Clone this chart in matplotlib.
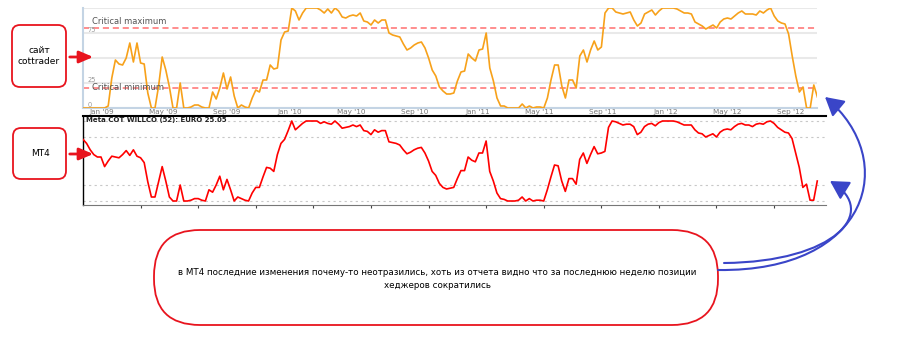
import matplotlib
matplotlib.use("Agg")
import matplotlib.pyplot as plt
import matplotlib.dates as mdates
import pandas as pd
from matplotlib.patches import FancyBboxPatch, FancyArrowPatch
from matplotlib.path import Path

# weekly COT report dates (Tuesdays)
weeks = pd.date_range("2008-11-25", periods=205, freq="7D")

# COT WILLCO index for EURO, as shown on cottrader.com
cottrader = [
    0, 0, 0, 0, 0, 0, 0,
    2, 30, 48, 44, 43, 50, 65, 46, 65, 45, 44,
    15, 0, 0, 22, 51, 38, 21, 0, 0, 25, 0, 0,
    1, 3, 3, 1, 0, 0, 16, 9, 20, 35, 19, 31, 12, 0,
    3, 1, 0, 10, 18, 16, 28, 28, 43, 39, 40,
    68, 76, 77, 100, 97, 88, 95, 100, 100, 100, 100,
    98, 95, 99, 95, 100, 97, 91, 90, 92, 93, 92, 95,
    87, 86, 83, 88, 85, 88, 88, 75, 73, 72, 71,
    64, 58, 60, 63, 65, 66, 60, 50, 38, 32, 21,
    17, 14, 14, 15, 27, 36, 37, 54, 50, 47, 58, 59,
    75, 40, 27, 10, 2, 2, 0, 0, 0, 0, 4, 0, 2,
    0, 1, 1, 0, 10, 28, 43, 43, 22, 10, 28, 28, 20,
    52, 58, 46, 58, 67, 58, 61, 95, 100, 100, 96, 95,
    94, 95, 96, 88, 82, 85, 94, 96, 98, 93, 97, 100, 100,
    100, 100, 99, 97, 95, 95, 94, 86, 84, 82, 79, 81, 83, 80, 86, 89, 90,
    89, 92, 95, 97, 94, 94, 94, 93, 97, 95, 98, 100, 92, 87, 85, 84, 74,
    52, 32, 16, 21, 0, 0, 23, 11,
]

# the same index from the MT4 indicator
mt4 = [
    77, 72, 64, 58, 55, 55, 43,
    50, 56, 55, 54, 58, 63, 57, 64, 56, 54, 48,
    24, 5, 5, 24, 43, 25, 5, 0, 0, 20, 0, 0,
    1, 3, 3, 1, 0, 14, 11, 20, 31, 14, 27, 14, 0, 5,
    3, 1, 0, 10, 17, 17, 30, 42, 41, 37, 58,
    72, 77, 88, 100, 89, 93, 97, 100, 100, 100, 100,
    97, 99, 97, 96, 100, 96, 91, 92, 93, 95, 93, 95,
    88, 87, 83, 89, 86, 88, 88, 74, 73, 72, 70,
    64, 59, 61, 64, 66, 67, 60, 50, 37, 32, 22,
    17, 15, 16, 17, 28, 38, 38, 55, 51, 49, 60, 60,
    75, 37, 25, 10, 3, 2, 0, 0, 0, 1, 5, 0, 3,
    0, 1, 1, 0, 14, 30, 45, 44, 25, 12, 28, 28, 21,
    52, 60, 47, 58, 68, 59, 60, 62, 92, 100, 99, 97,
    95, 96, 96, 93, 83, 86, 93, 96, 97, 94, 98, 100, 100,
    100, 100, 99, 97, 95, 95, 95, 89, 85, 84, 80, 82, 84, 80, 86, 89, 90,
    89, 93, 96, 97, 95, 95, 93, 96, 97, 96, 99, 100, 97, 92, 89, 86, 85,
    78, 60, 42, 17, 21, 1, 1, 25,
]

crit_max, crit_min = 80, 20
mt4_title = "Meta COT WILLCO (52): EURO 25.05"
note = ("в МТ4 последние изменения почему-то неотразились, хоть из отчета видно что за последнюю неделю позиции\n"
        "хеджеров сократились")

W, H = 900, 342
plt.rcParams["font.family"] = "DejaVu Sans"
fig = plt.figure(figsize=(W / 100, H / 100), dpi=100)


def px_axes(left, top, width, height):
    return fig.add_axes([left / W, 1 - (top + height) / H, width / W, height / H])


# --- cottrader chart ---
ax1 = px_axes(83, 8, 734.4, 100)
ax1.plot(weeks, cottrader, color="#f7a11a", lw=1.2, zorder=3)
ax1.axhline(crit_max, color="#ff6f6f", lw=1.1, ls=(0, (4, 2.5)), zorder=2)
ax1.axhline(crit_min, color="#ff6f6f", lw=1.1, ls=(0, (4, 2.5)), zorder=2)
ax1.set_xlim(weeks[0], weeks[-1])
ax1.set_ylim(0, 100)
ax1.set_yticks([0, 25, 50, 75, 100])
ax1.grid(axis="y", color="#e9e9e9", lw=1.5)
ax1.set_axisbelow(True)
ax1.tick_params(axis="y", length=0, labelleft=False)
ax1.xaxis.set_major_locator(mdates.MonthLocator(bymonth=[1, 5, 9]))
ax1.xaxis.set_major_formatter(mdates.DateFormatter("%b '%y"))
ax1.tick_params(axis="x", length=0, pad=1, labelsize=5.2, labelcolor="#777777")
for side in ["top", "right"]:
    ax1.spines[side].set_visible(False)
for side in ["left", "bottom"]:
    ax1.spines[side].set_color("#c4d4e4")
    ax1.spines[side].set_linewidth(1.5)
yt = ax1.get_yaxis_transform()
for v in [75, 25]:
    ax1.text(0.006, v + 3, str(v), transform=yt, fontsize=4.8, color="#999999", va="center")
ax1.text(0.006, 3, "0", transform=yt, fontsize=4.8, color="#999999", va="center")
ax1.text(0.012, crit_max + 1.5, "Critical maximum", transform=yt, fontsize=6,
         color="#555555", va="bottom")
ax1.text(0.012, crit_min, "Critical minimum", transform=yt, fontsize=6,
         color="#555555", va="center")

# --- MT4 chart ---
ax2 = px_axes(83, 116, 743, 89)
ax2.plot(weeks, mt4, color="#ff0000", lw=1.2, zorder=3)
ax2.set_xlim(weeks[0], weeks[-1] + pd.Timedelta(days=17))
ax2.set_ylim(-5, 106.25)
ax2.set_yticks([0, 20, 80, 100])
ax2.grid(axis="y", color="#c8c8c8", lw=0.8, ls=(0, (2, 3)))
ax2.tick_params(axis="y", length=0, labelleft=False)
ax2.set_xticks(weeks[16::16])
ax2.tick_params(axis="x", length=2, width=0.8, labelbottom=False, color="#444444")
ax2.spines["right"].set_visible(False)
ax2.spines["top"].set_linewidth(1.5)
ax2.spines["left"].set_linewidth(1.0)
ax2.spines["bottom"].set_color("#777777")
ax2.text(0.004, 0.985, mt4_title, transform=ax2.transAxes, fontsize=5, fontweight="bold",
         color="#222222", va="top")

# --- callouts ---
ax0 = fig.add_axes([0, 0, 1, 1])
ax0.set_xlim(0, W)
ax0.set_ylim(H, 0)
ax0.axis("off")

red = "#e8141e"
blue = "#3a45c8"
for x0, y0, w, h in [(12, 25, 54, 62), (13, 128, 53, 51)]:
    ax0.add_patch(FancyBboxPatch((x0, y0), w, h, boxstyle="round,pad=0,rounding_size=8",
                                 fc="white", ec=red, lw=1.3))
ax0.text(39, 56, "сайт\ncottrader", ha="center", va="center", fontsize=6.5, linespacing=1.3)
ax0.text(40, 153, "MT4", ha="center", va="center", fontsize=6.5)
for y in [57, 154]:
    ax0.annotate("", xy=(96, y), xytext=(67, y),
                 arrowprops=dict(arrowstyle="-|>,head_length=0.7,head_width=0.3",
                                 color=red, lw=2, mutation_scale=12))

ax0.add_patch(FancyBboxPatch((154, 230), 564, 95, boxstyle="round,pad=0,rounding_size=46",
                             fc="white", ec=red, lw=1.3))
ax0.text(437, 279, note, ha="center", va="center", fontsize=6.3, linespacing=1.45)

for pts in [[(724, 263), (835, 262), (880, 212), (830, 181)],
            [(718, 270), (870, 272), (900, 160), (825, 97)]]:
    path = Path(pts, [Path.MOVETO, Path.CURVE4, Path.CURVE4, Path.CURVE4])
    ax0.add_patch(FancyArrowPatch(path=path, arrowstyle="-|>,head_length=0.8,head_width=0.45",
                                  mutation_scale=14, color=blue, lw=1.5,
                                  transform=ax0.transData))

fig.savefig("out.png", dpi=100)
